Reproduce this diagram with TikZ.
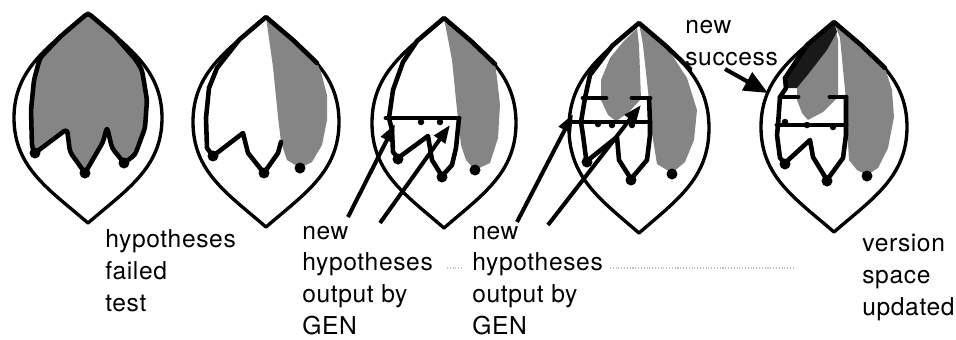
\documentclass[tikz,border=0pt]{standalone}
\usepackage{fontspec}
\newfontfamily\lblfont[LetterSpace=2.5]{TeX Gyre Heros}
\usetikzlibrary{arrows.meta}

\begin{document}
\begin{tikzpicture}[
  x=0.2mm, y=-0.2mm,
  lens/.style   ={draw=black, line width=1.9pt, line join=round},
  rim/.style    ={draw=black, line width=2.6pt, line join=round, line cap=round},
  failed/.style ={fill=black!48},
  success/.style={fill=black!90},
  newhyp/.style ={line width=2.8pt, line cap=round},
  leaf/.style   ={circle, fill=black, inner sep=0pt, minimum size=2.2mm},
  knot/.style   ={circle, fill=black, inner sep=0pt, minimum size=1.3mm},
  arr/.style    ={-{Triangle[length=3.6mm,width=2.6mm]}, line width=2.3pt},
  bigarr/.style ={-{Triangle[length=4.8mm,width=4mm]}, line width=2.3pt},
  lbl/.style    ={anchor=base west, align=left, inner sep=0pt,
                  font=\lblfont\fontsize{14}{18}\selectfont},
  scan/.style   ={draw=black!25, line width=0.6pt, densely dotted}
]
\useasboundingbox (0,0) rectangle (956,339);
% ---- version space lenses ---------------------------------------------------
\foreach \cx/\cy/\w in {88/118/74, 266/122/73, 444/123/72, 639/128/70, 834/127/73}
  \draw[lens] (\cx,\cy-105)
    .. controls (\cx-38,\cy-72) and (\cx-\w,\cy-50) .. (\cx-\w,\cy)
    .. controls (\cx-\w,\cy+50) and (\cx-38,\cy+72) .. (\cx,\cy+105)
    .. controls (\cx+38,\cy+72) and (\cx+\w,\cy+50) .. (\cx+\w,\cy)
    .. controls (\cx+\w,\cy-50) and (\cx+38,\cy-72) .. cycle;
% ---- panel 1: all hypotheses failed ------------------------------------------
\path[failed, rim, rounded corners=2pt] (88,13) -- (61,36) -- (40,58) -- (34,80)
  -- (31,110) -- (32,147) -- (35,153) -- (67,129) -- (70,152) -- (85,173)
  -- (103,142) -- (107,127) -- (112,148) -- (124,163) -- (135,155) -- (145,128)
  -- (147,100) -- (142,70) -- (136,60) -- (115,36) -- cycle;
\node[leaf] (p1a) at (35,153) {};
\node[leaf] (p1b) at (85,173) {};
\node[leaf] (p1c) at (124,163) {};
% ---- panel 2 -----------------------------------------------------------------
\path[failed] (266,17) -- (273,67) -- (278,117) -- (281,142) -- (287,160)
  -- (300,168) -- (312,162) -- (322,145) -- (327,120) -- (327,95) -- (321,72)
  -- (317,63) -- (293,40) -- cycle;
\draw[rim] (317,63) -- (293,40) -- (266,17) -- (239,40) -- (217,68) -- (209,88)
  -- (206,118) -- (207,148) -- (213,156) -- (243,133) -- (248,153) -- (264,173)
  -- (278,153) -- (281,142);
\node[leaf] (p2a) at (213,156) {};
\node[leaf] (p2b) at (264,173) {};
\node[leaf] (p2c) at (300,168) {};
% ---- panel 3 -----------------------------------------------------------------
\path[failed] (444,18) -- (452,60) -- (457,110) -- (461,145) -- (466,160)
  -- (475,170) -- (490,163) -- (498,138) -- (500,105) -- (497,78) -- (495,64)
  -- (471,41) -- cycle;
\draw[rim] (495,64) -- (471,41) -- (444,18) -- (417,41) -- (403,62) -- (393,90)
  -- (389,118) -- (392,130) -- (393,152) -- (398,158) -- (428,136) -- (432,160)
  -- (442,176) -- (452,165) -- (456,148) -- (459,118);
\draw[newhyp] (386,118) -- (459,118);
\node[knot] at (421,122) {};
\node[knot] at (440,122) {};
\node[leaf] (p3a) at (398,159) {};
\node[leaf] (p3b) at (442,177) {};
\node[leaf] (p3c) at (475,170) {};
% ---- panel 4 -----------------------------------------------------------------
\path[failed] (639,23) -- (666,46) -- (687,78) -- (697,110) -- (694,140)
  -- (685,162) -- (672,173) -- (657,164) -- (652,133) -- (649,100) -- (643,45)
  -- cycle;
\path[failed] (637,28) -- (623,42) -- (610,58) -- (601,80) -- (601,100)
  -- (608,115) -- (616,121) -- (628,113) -- (641,99) -- (639,45) -- cycle;
\draw[rim] (690,69) -- (666,46) -- (639,23) -- (612,46) -- (590,75) -- (585,98)
  -- (581,122) -- (583,135) -- (586,158) -- (587,161) -- (617,137) -- (619,160)
  -- (631,179) -- (647,160) -- (650,135) -- (650,122) -- (649,98);
\draw[newhyp] (583,98) -- (606,98) (632,98) -- (650,98) (568,122) -- (650,122);
\node[knot] at (598,124) {};
\node[knot] at (612,125) {};
\node[knot] at (632,125) {};
\node[leaf] (p4a) at (587,162) {};
\node[leaf] (p4b) at (631,180) {};
\node[leaf] (p4c) at (672,174) {};
% ---- panel 5: version space updated -----------------------------------------
\path[failed] (834,22) -- (861,45) -- (885,68) -- (892,90) -- (894,117)
  -- (888,148) -- (878,168) -- (867,175) -- (857,170) -- (849,160) -- (847,127)
  -- (846,100) -- (840,38) -- cycle;
\path[failed] (836,32) -- (827,50) -- (810,72) -- (797,88) -- (797,100)
  -- (802,113) -- (808,120) -- (823,112) -- (833,102) -- (838,97) -- (838,40)
  -- cycle;
\path[success] (834,22) -- (807,45) -- (785,78) -- (786,88) -- (797,88)
  -- (810,72) -- (827,50) -- (837,32) -- cycle;
\draw[rim] (885,68) -- (861,45) -- (834,22) -- (807,45) -- (785,78) -- (786,88)
  -- (780,97) -- (778,125) -- (777,135) -- (780,158) -- (785,163) -- (810,140)
  -- (813,157) -- (827,180) -- (843,158) -- (846,135) -- (846,97);
\draw[newhyp] (780,97) -- (798,97) (830,97) -- (846,97) (777,125) -- (846,125);
\node[knot] at (785,122) {};
\node[knot] at (807,125) {};
\node[knot] at (833,127) {};
\node[leaf] (p5a) at (785,164) {};
\node[leaf] (p5b) at (827,181) {};
\node[leaf] (p5c) at (867,176) {};
% ---- labels (base = last line) -----------------------------------------------
\node[lbl] (hft)  at (105,311) {hypotheses\\failed\\test};
\node[lbl] (gen1) at (302,334) {new\\hypotheses\\output by\\GEN};
\node[lbl] (gen2) at (472,334) {new\\hypotheses\\output by\\GEN};
\node[lbl] (nsc)  at (685,65)  {new\\success};
\node[lbl] (vsu)  at (862,315) {version\\space\\updated};
% ---- arrows ------------------------------------------------------------------
\coordinate (g1t) at (348,217); \coordinate (g1h) at (395,124);
\coordinate (g2t) at (380,223); \coordinate (g2h) at (450,125);
\coordinate (g3t) at (517,222); \coordinate (g3h) at (573,114);
\coordinate (g4t) at (548,225); \coordinate (g4h) at (641,105);
\coordinate (st)  at (725,69);  \coordinate (sh)  at (768,93);
\draw[arr] (g1t) -- (g1h);
\draw[arr] (g2t) -- (g2h);
\draw[arr] (g3t) -- (g3h);
\draw[arr] (g4t) -- (g4h);
\draw[bigarr] (st) -- (sh);
% ---- scan marks --------------------------------------------------------------
\draw[scan] (447,268) -- (463,268);
\draw[scan] (610,268) -- (795,268);
\end{tikzpicture}
\end{document}
